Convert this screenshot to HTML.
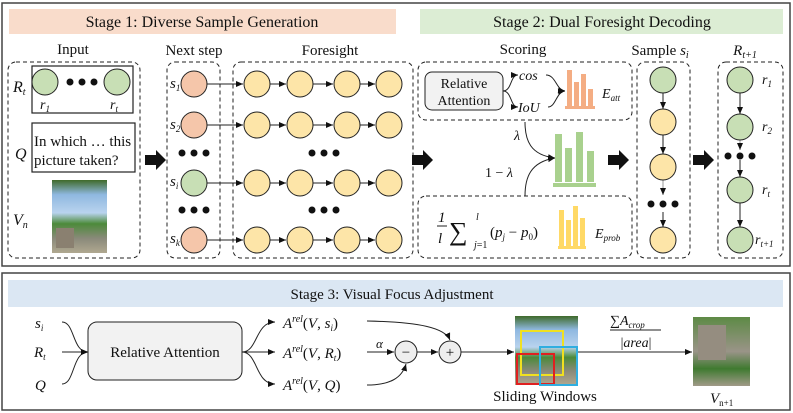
<!DOCTYPE html>
<html><head><meta charset="utf-8"><style>body{margin:0;background:#fff}svg{display:block;font-family:"Liberation Serif","DejaVu Serif",serif}svg text{font-family:"Liberation Serif","DejaVu Serif",serif;fill:#111}.i{font-style:italic}</style></head><body>
<svg width="793" height="413" viewBox="0 0 793 413" xmlns="http://www.w3.org/2000/svg" font-family="Liberation Serif, serif">
<defs><marker id="a" markerWidth="8" markerHeight="8" refX="7" refY="4" orient="auto" markerUnits="userSpaceOnUse"><path d="M0,1 L7,4 L0,7z" fill="#111"/></marker>
<linearGradient id="img" x1="0" y1="0" x2="0" y2="1"><stop offset="0" stop-color="#3f6a2a"/><stop offset="0.2" stop-color="#8fb8e0"/><stop offset="0.45" stop-color="#b9d3ee"/><stop offset="0.6" stop-color="#4c8a3a"/><stop offset="0.8" stop-color="#8a8a7a"/><stop offset="1" stop-color="#b0a890"/></linearGradient>
<linearGradient id="img2" x1="0" y1="0" x2="0" y2="1"><stop offset="0" stop-color="#5d8a45"/><stop offset="0.5" stop-color="#9a9488"/><stop offset="0.75" stop-color="#3f7a30"/><stop offset="1" stop-color="#a09a88"/></linearGradient></defs>
<rect x="2" y="3" width="788" height="263" fill="none" stroke="#444" stroke-width="1.5"/>
<rect x="2" y="273" width="788" height="137" fill="none" stroke="#444" stroke-width="1.5"/>
<rect x="9" y="9" width="387" height="25" fill="#f9dccb"/>
<rect x="420" y="9" width="363" height="25" fill="#dcedd4"/>
<text x="202" y="27" font-size="16" text-anchor="middle">Stage 1: Diverse Sample Generation</text>
<text x="602" y="27" font-size="16" text-anchor="middle">Stage 2: Dual Foresight Decoding</text>
<g font-size="15" text-anchor="middle"><text x="73" y="54">Input</text><text x="194" y="55">Next step</text><text x="330" y="55">Foresight</text><text x="523" y="54">Scoring</text><text x="660" y="55">Sample <tspan class="i">s</tspan><tspan class="i" font-size="10" dy="3">i</tspan></text><text x="745" y="55" class="i">R<tspan font-size="10" dy="3">t+1</tspan></text></g>
<g fill="none" stroke="#222" stroke-dasharray="4,3" stroke-width="1">
<rect x="8" y="62" width="132" height="196" rx="8"/><rect x="167" y="62" width="53" height="196" rx="8"/><rect x="233" y="62" width="180" height="196" rx="8"/>
<rect x="418" y="62" width="214" height="58" rx="8"/><rect x="418" y="196" width="214" height="62" rx="8"/>
<rect x="637" y="62" width="53" height="196" rx="8"/><rect x="718" y="62" width="65" height="196" rx="8"/></g>
<rect x="32" y="66" width="101" height="47" fill="none" stroke="#222" stroke-width="1.2"/>
<circle cx="45" cy="82" r="13" fill="#c8dfb5" stroke="#222"/><circle cx="117" cy="82" r="13" fill="#c8dfb5" stroke="#222"/>
<g fill="#111"><circle cx="70" cy="82" r="3.5"/><circle cx="82" cy="82" r="3.5"/><circle cx="94" cy="82" r="3.5"/></g>
<text x="40" y="109" font-size="14" class="i">r<tspan font-size="9" dy="3">1</tspan></text><text x="110" y="109" font-size="14" class="i">r<tspan font-size="9" dy="3">t</tspan></text>
<text x="13" y="92" font-size="16" class="i">R<tspan font-size="10" dy="3">t</tspan></text>
<rect x="32" y="123" width="103" height="49" fill="none" stroke="#222" stroke-width="1.2"/>
<text x="34" y="146" font-size="15">In which … this</text><text x="34" y="165" font-size="15">picture taken?</text>
<text x="15" y="159" font-size="16" class="i">Q</text>
<rect x="52" y="180" width="55" height="73" fill="url(#img)"/><rect x="56" y="228" width="18" height="20" fill="#8a8070"/>
<text x="13" y="225" font-size="16" class="i">V<tspan font-size="10" dy="3">n</tspan></text>
<g fill="#111"><path d="M145,155 h11 v-5 l10,10 l-10,10 v-5 h-11z"/><path d="M412,155 h11 v-5 l10,10 l-10,10 v-5 h-11z"/><path d="M608,155 h11 v-5 l10,10 l-10,10 v-5 h-11z"/><path d="M693,155 h11 v-5 l10,10 l-10,10 v-5 h-11z"/></g>
<g font-size="15" class="i"><text x="170" y="88">s<tspan font-size="9" dy="3">1</tspan></text><text x="170" y="129">s<tspan font-size="9" dy="3">2</tspan></text><text x="170" y="186">s<tspan font-size="9" dy="3">i</tspan></text><text x="170" y="243">s<tspan font-size="9" dy="3">k</tspan></text></g>
<g stroke="#222" stroke-width="1" marker-end="url(#a)">
<line x1="207" y1="84" x2="243" y2="84"/><line x1="207" y1="125" x2="243" y2="125"/><line x1="207" y1="183" x2="243" y2="183"/><line x1="207" y1="240" x2="243" y2="240"/>
<line x1="270" y1="84" x2="286" y2="84"/><line x1="313" y1="84" x2="333" y2="84"/><line x1="360" y1="84" x2="375" y2="84"/>
<line x1="270" y1="125" x2="286" y2="125"/><line x1="313" y1="125" x2="333" y2="125"/><line x1="360" y1="125" x2="375" y2="125"/>
<line x1="270" y1="183" x2="286" y2="183"/><line x1="313" y1="183" x2="333" y2="183"/><line x1="360" y1="183" x2="375" y2="183"/>
<line x1="270" y1="240" x2="286" y2="240"/><line x1="313" y1="240" x2="333" y2="240"/><line x1="360" y1="240" x2="375" y2="240"/></g>
<g stroke="#222"><circle cx="194" cy="84" r="13" fill="#f5c6aa"/><circle cx="194" cy="125" r="13" fill="#f5c6aa"/><circle cx="194" cy="183" r="13" fill="#c8dfb5"/><circle cx="194" cy="240" r="13" fill="#f5c6aa"/>
<g fill="#fde5a8"><circle cx="257" cy="84" r="13"/><circle cx="300" cy="84" r="13"/><circle cx="347" cy="84" r="13"/><circle cx="389" cy="84" r="13"/>
<circle cx="257" cy="125" r="13"/><circle cx="300" cy="125" r="13"/><circle cx="347" cy="125" r="13"/><circle cx="389" cy="125" r="13"/>
<circle cx="257" cy="183" r="13"/><circle cx="300" cy="183" r="13"/><circle cx="347" cy="183" r="13"/><circle cx="389" cy="183" r="13"/>
<circle cx="257" cy="240" r="13"/><circle cx="300" cy="240" r="13"/><circle cx="347" cy="240" r="13"/><circle cx="389" cy="240" r="13"/></g></g>
<g fill="#111"><circle cx="182" cy="153" r="3.5"/><circle cx="194" cy="153" r="3.5"/><circle cx="206" cy="153" r="3.5"/><circle cx="182" cy="210" r="3.5"/><circle cx="194" cy="210" r="3.5"/><circle cx="206" cy="210" r="3.5"/>
<circle cx="312" cy="153" r="3.5"/><circle cx="324" cy="153" r="3.5"/><circle cx="336" cy="153" r="3.5"/><circle cx="312" cy="210" r="3.5"/><circle cx="324" cy="210" r="3.5"/><circle cx="336" cy="210" r="3.5"/></g>
<rect x="425" y="72" width="78" height="38" rx="7" fill="#f2f2f2" stroke="#222"/>
<text x="464" y="88" font-size="14" text-anchor="middle">Relative</text><text x="464" y="105" font-size="14" text-anchor="middle">Attention</text>
<g fill="none" stroke="#222" marker-end="url(#a)"><path d="M503,91 C512,91 510,75 518,75"/><path d="M503,91 C512,91 510,107 518,107"/><path d="M546,75 C556,75 556,90 565,91"/><path d="M548,107 C556,107 556,92 565,91"/>
<path d="M525,122 C525,140 530,155 555,158"/><path d="M525,196 C525,178 530,162 555,158"/></g>
<text x="519" y="80" font-size="14" class="i">cos</text><text x="518" y="112" font-size="14" class="i">IoU</text>
<g fill="#f4ad83"><rect x="567" y="70" width="5" height="36"/><rect x="574" y="82" width="5" height="24"/><rect x="581" y="74" width="5" height="32"/><rect x="588" y="89" width="5" height="17"/><rect x="565" y="106" width="30" height="3"/></g>
<text x="602" y="98" font-size="14" class="i">E<tspan font-size="9" dy="3">att</tspan></text>
<text x="514" y="140" font-size="14" class="i">λ</text><text x="485" y="177" font-size="14">1 − <tspan class="i">λ</tspan></text>
<g fill="#a9d18e"><rect x="555" y="134" width="7" height="48"/><rect x="565" y="148" width="7" height="34"/><rect x="576" y="132" width="7" height="50"/><rect x="587" y="151" width="7" height="31"/><rect x="553" y="183" width="43" height="4"/></g>
<text x="438" y="222" font-size="15" class="i">1</text><line x1="437" y1="226" x2="447" y2="226" stroke="#222"/><text x="438" y="243" font-size="15" class="i">l</text>
<text x="449" y="240" font-size="26">∑</text><text x="476" y="220" font-size="10" class="i">l</text><text x="474" y="248" font-size="10"><tspan class="i">j</tspan>=1</text>
<text x="490" y="237" font-size="15">(<tspan class="i">p</tspan><tspan font-size="9" dy="3" class="i">j</tspan><tspan dy="-3"> − </tspan><tspan class="i">p</tspan><tspan font-size="9" dy="3">0</tspan><tspan dy="-3">)</tspan></text>
<g fill="#ffd966"><rect x="559" y="210" width="5" height="36"/><rect x="566" y="220" width="5" height="26"/><rect x="573" y="206" width="5" height="40"/><rect x="580" y="218" width="5" height="28"/><rect x="558" y="246" width="28" height="3"/></g>
<text x="595" y="238" font-size="14" class="i">E<tspan font-size="9" dy="3">prob</tspan></text>
<g stroke="#222" marker-end="url(#a)"><line x1="663" y1="93" x2="663" y2="109"/><line x1="663" y1="135" x2="663" y2="154"/><line x1="663" y1="180" x2="663" y2="195" stroke="#999"/><line x1="663" y1="212" x2="663" y2="227"/>
<line x1="740" y1="93" x2="740" y2="114"/><line x1="740" y1="140" x2="740" y2="150" stroke="#999"/><line x1="740" y1="160" x2="740" y2="177"/><line x1="740" y1="203" x2="740" y2="227"/></g>
<g stroke="#222"><circle cx="663" cy="80" r="13" fill="#c8dfb5"/><circle cx="663" cy="122" r="13" fill="#fde5a8"/><circle cx="663" cy="167" r="13" fill="#fde5a8"/><circle cx="663" cy="240" r="13" fill="#fde5a8"/>
<g fill="#c8dfb5"><circle cx="740" cy="80" r="13"/><circle cx="740" cy="127" r="13"/><circle cx="740" cy="190" r="13"/><circle cx="740" cy="240" r="13"/></g></g>
<g fill="#111"><circle cx="651" cy="204" r="3.5"/><circle cx="663" cy="204" r="3.5"/><circle cx="675" cy="204" r="3.5"/><circle cx="728" cy="156" r="3.5"/><circle cx="740" cy="156" r="3.5"/><circle cx="752" cy="156" r="3.5"/></g>
<g font-size="14" class="i"><text x="762" y="84">r<tspan font-size="9" dy="3">1</tspan></text><text x="762" y="131">r<tspan font-size="9" dy="3">2</tspan></text><text x="762" y="194">r<tspan font-size="9" dy="3">t</tspan></text><text x="755" y="244">r<tspan font-size="9" dy="3">t+1</tspan></text></g>
<rect x="8" y="280" width="775" height="27" fill="#dbe7f3"/>
<text x="392" y="299" font-size="15" text-anchor="middle">Stage 3: Visual Focus Adjustment</text>
<g font-size="15" class="i"><text x="35" y="328">s<tspan font-size="9" dy="3">i</tspan></text><text x="34" y="357">R<tspan font-size="9" dy="3">t</tspan></text><text x="35" y="390">Q</text></g>
<g fill="none" stroke="#222" marker-end="url(#a)"><path d="M62,322 C75,322 72,352 88,352"/><line x1="62" y1="352" x2="88" y2="352"/><path d="M62,384 C75,384 72,352 88,352"/>
<path d="M242,352 C258,352 255,322 275,322"/><line x1="242" y1="352" x2="275" y2="352"/><path d="M242,352 C258,352 255,384 275,384"/>
<path d="M367,321 C420,322 445,328 450,340"/><line x1="367" y1="352" x2="394" y2="352"/><path d="M367,385 C390,385 402,378 406,364"/><line x1="417" y1="352" x2="438" y2="352"/><line x1="461" y1="352" x2="514" y2="352"/><line x1="578" y1="352" x2="692" y2="352"/></g>
<rect x="88" y="322" width="154" height="58" rx="9" fill="#f2f2f2" stroke="#222"/>
<text x="165" y="357" font-size="15" text-anchor="middle">Relative Attention</text>
<g font-size="15"><text x="283" y="328"><tspan class="i">A</tspan><tspan font-size="10" dy="-6" class="i">rel</tspan><tspan dy="6">(</tspan><tspan class="i">V</tspan>, <tspan class="i">s</tspan><tspan font-size="9" dy="3" class="i">i</tspan><tspan dy="-3">)</tspan></text>
<text x="283" y="358"><tspan class="i">A</tspan><tspan font-size="10" dy="-6" class="i">rel</tspan><tspan dy="6">(</tspan><tspan class="i">V</tspan>, <tspan class="i">R</tspan><tspan font-size="9" dy="3" class="i">t</tspan><tspan dy="-3">)</tspan></text>
<text x="283" y="390"><tspan class="i">A</tspan><tspan font-size="10" dy="-6" class="i">rel</tspan><tspan dy="6">(</tspan><tspan class="i">V</tspan>, <tspan class="i">Q</tspan>)</text></g>
<text x="376" y="348" font-size="13" class="i">α</text>
<circle cx="406" cy="352" r="11" fill="#eee" stroke="#222"/><text x="406" y="357" font-size="15" text-anchor="middle">−</text>
<circle cx="450" cy="352" r="11" fill="#eee" stroke="#222"/><text x="450" y="357" font-size="15" text-anchor="middle">+</text>
<rect x="515" y="316" width="63" height="69" fill="url(#img)"/>
<rect x="521" y="331" width="42" height="44" fill="none" stroke="#f0e020" stroke-width="2"/>
<rect x="517" y="354" width="37" height="30" fill="none" stroke="#e02020" stroke-width="2"/>
<rect x="540" y="347" width="37" height="38" fill="none" stroke="#30aee0" stroke-width="2"/>
<text x="545" y="401" font-size="15" text-anchor="middle">Sliding Windows</text>
<text x="610" y="325" font-size="14">∑<tspan class="i">A</tspan><tspan font-size="9" dy="3" class="i">crop</tspan></text>
<line x1="610" y1="330" x2="661" y2="330" stroke="#222"/>
<text x="636" y="347" font-size="14" text-anchor="middle">|<tspan class="i">area</tspan>|</text>
<rect x="693" y="317" width="57" height="69" fill="url(#img2)"/><rect x="698" y="325" width="28" height="35" fill="#958d80"/>
<text x="710" y="403" font-size="15" class="i">V<tspan font-size="9" dy="3" font-style="normal">n+1</tspan></text>
</svg>
</body></html>
